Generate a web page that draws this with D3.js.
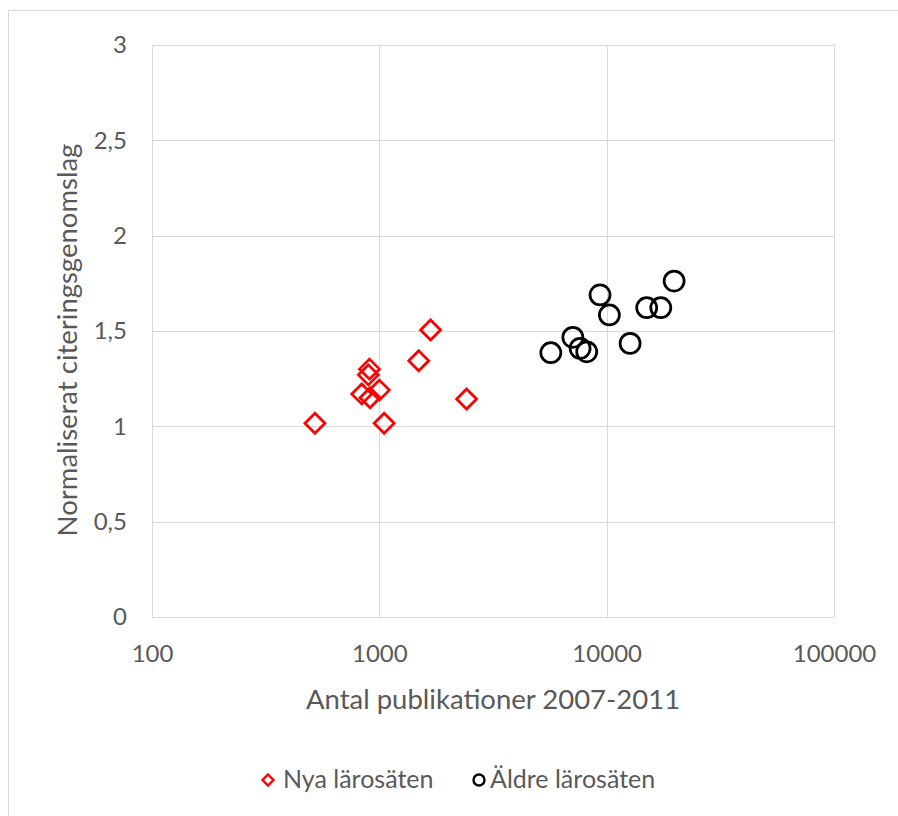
<!DOCTYPE html>
<html>
<head>
<meta charset="utf-8">
<script src="https://cdn.jsdelivr.net/npm/d3@7"></script>
<style>
  html, body { margin: 0; padding: 0; background: #ffffff; }
  svg text { font-family: "Lato", "Open Sans", sans-serif; fill: #595959; }
</style>
</head>
<body>
<svg id="chart" width="898" height="816"></svg>
<script>
// Nya lärosäten (new institutions): publications 2007-2011 and normalised citation impact
const nyaPubl   = [521, 1050, 2420, 1680, 1490, 905, 895, 837, 1000, 910];
const nyaCit    = [1.016, 1.016, 1.143, 1.505, 1.344, 1.30, 1.27, 1.17, 1.19, 1.15];

// Äldre lärosäten (older institutions)
const aldrePubl = [5680, 7100, 7640, 8170, 9350, 10280, 12680, 15000, 17300, 19800];
const aldreCit  = [1.386, 1.467, 1.409, 1.391, 1.689, 1.584, 1.435, 1.622, 1.622, 1.762];

const xTicks = [100, 1000, 10000, 100000];
const yTicks = [0, 0.5, 1, 1.5, 2, 2.5, 3];

const xTitle = "Antal publikationer 2007-2011";
const yTitle = "Normaliserat citeringsgenomslag";
const seriesNames = ["Nya lärosäten", "Äldre lärosäten"];

const svg = d3.select("#chart");

// chart frame
svg.append("rect")
  .attr("x", 8.5).attr("y", 10.5)
  .attr("width", 1000).attr("height", 1000)
  .attr("fill", "none").attr("stroke", "#d9d9d9").attr("stroke-width", 1);

const plot = { left: 152, right: 834, top: 45, bottom: 617 };

const x = d3.scaleLog().domain([100, 100000]).range([plot.left, plot.right]);
const y = d3.scaleLinear().domain([0, 3]).range([plot.bottom, plot.top]);

// gridlines
const grid = svg.append("g").attr("stroke", "#d9d9d9").attr("stroke-width", 1);
grid.selectAll("line.v").data(xTicks).join("line")
  .attr("x1", d => Math.round(x(d)) + 0.5).attr("x2", d => Math.round(x(d)) + 0.5)
  .attr("y1", plot.top).attr("y2", plot.bottom);
grid.selectAll("line.h").data(yTicks).join("line")
  .attr("x1", plot.left).attr("x2", plot.right)
  .attr("y1", d => Math.round(y(d)) + 0.5).attr("y2", d => Math.round(y(d)) + 0.5);

// axes (labels only, lines come from the grid)
const fmtY = d => d3.format("")(d).replace(".", ",");
const xAxis = svg.append("g")
  .attr("transform", `translate(0,${plot.bottom})`)
  .call(d3.axisBottom(x).tickValues(xTicks).tickFormat(d3.format("d")).tickSize(0).tickPadding(28));
const yAxis = svg.append("g")
  .attr("transform", `translate(${plot.left},0)`)
  .call(d3.axisLeft(y).tickValues(yTicks).tickFormat(fmtY).tickSize(0).tickPadding(25));
[xAxis, yAxis].forEach(a => {
  a.select(".domain").remove();
  a.selectAll("text").style("font-size", "24px").attr("fill", "#595959")
    .style("font-family", '"Lato", "Open Sans", sans-serif');
});

// axis titles
svg.append("text")
  .attr("x", (plot.left + plot.right) / 2 + 0).attr("y", 709)
  .attr("text-anchor", "middle").style("font-size", "27.5px")
  .text(xTitle);
svg.append("text")
  .attr("transform", `translate(77,${(plot.top + plot.bottom) / 2 + 9}) rotate(-90)`)
  .attr("text-anchor", "middle").style("font-size", "27.5px")
  .text(yTitle);

const diamond = r => `M0,${-r}L${r},0L0,${r}L${-r},0Z`;

// older institutions: black circles
svg.append("g").selectAll("circle")
  .data(d3.zip(aldrePubl, aldreCit)).join("circle")
  .attr("cx", d => x(d[0])).attr("cy", d => y(d[1]))
  .attr("r", 10)
  .attr("fill", "none").attr("stroke", "#000000").attr("stroke-width", 2.75);

// new institutions: red diamonds
svg.append("g").selectAll("path")
  .data(d3.zip(nyaPubl, nyaCit)).join("path")
  .attr("transform", d => `translate(${x(d[0])},${y(d[1])})`)
  .attr("d", diamond(10))
  .attr("fill", "none").attr("stroke", "#ff0000").attr("stroke-width", 2.75);

// legend
const legend = svg.append("g");
legend.append("path")
  .attr("transform", "translate(268,780)")
  .attr("d", diamond(5.5))
  .attr("fill", "none").attr("stroke", "#ff0000").attr("stroke-width", 2.4);
legend.append("text").attr("x", 283).attr("y", 788).style("font-size", "25px").text(seriesNames[0]);
legend.append("circle")
  .attr("cx", 479).attr("cy", 780).attr("r", 5.5)
  .attr("fill", "none").attr("stroke", "#000000").attr("stroke-width", 2.4);
legend.append("text").attr("x", 490).attr("y", 788).style("font-size", "25px").text(seriesNames[1]);
</script>
</body>
</html>
